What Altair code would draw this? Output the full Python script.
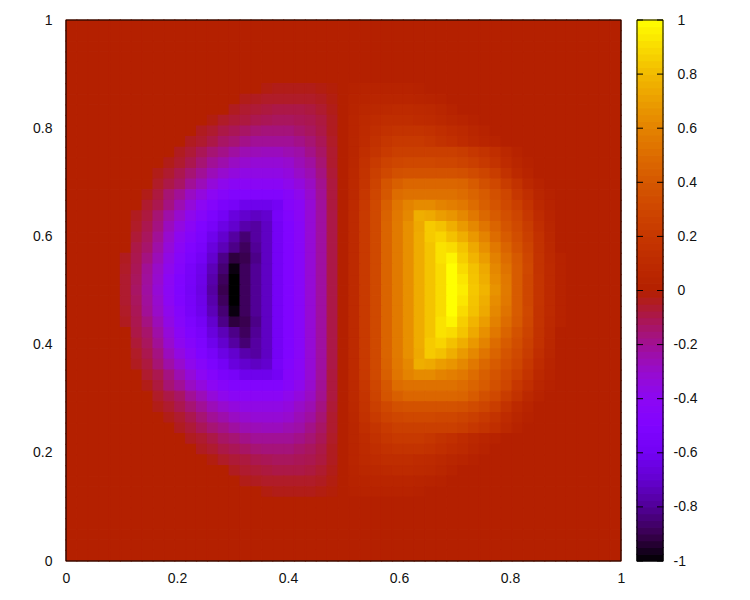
import altair as alt
import pandas as pd

# Hundredths of the field value, rows 0..25 from the top edge (row 25 is the middle row;
# the picture is mirror-symmetric about it). LEFT rows end at column 24, RIGHT rows start at column 26.
LEFT = [
 [], [], [], [], [], [],
 [-2,-3,-3,-3,-3,-2,-1],
 [-3,-4,-5,-5,-5,-5,-5,-4,-2],
 [-4,-6,-7,-8,-9,-9,-9,-8,-6,-3],
 [-2,-5,-7,-8,-10,-11,-12,-12,-11,-10,-8,-4],
 [-4,-6,-9,-11,-13,-15,-16,-16,-16,-14,-12,-9,-4],
 [-4,-6,-9,-13,-15,-18,-20,-20,-20,-20,-18,-15,-11,-5],
 [-4,-7,-11,-15,-18,-22,-25,-26,-27,-27,-25,-23,-18,-13,-6],
 [-3,-6,-10,-15,-20,-24,-28,-30,-32,-32,-32,-30,-26,-22,-15,-6],
 [-3,-6,-10,-15,-20,-26,-30,-34,-36,-36,-36,-36,-34,-29,-25,-17,-7],
 [-5,-9,-13,-20,-26,-33,-38,-42,-42,-42,-42,-42,-38,-34,-28,-19,-8],
 [-3,-8,-15,-20,-28,-34,-40,-45,-48,-48,-48,-48,-48,-44,-38,-30,-20,-8],
 [-6,-10,-17,-25,-33,-40,-47,-53,-56,-62,-62,-62,-58,-46,-42,-32,-21,-8],
 [-4,-8,-15,-23,-30,-38,-45,-52,-58,-66,-70,-72,-70,-56,-48,-42,-32,-22,-9],
 [-5,-10,-17,-27,-35,-42,-50,-56,-64,-70,-76,-78,-72,-58,-50,-43,-32,-22,-9],
 [-7,-12,-20,-30,-39,-46,-52,-62,-70,-78,-85,-78,-72,-58,-50,-43,-32,-22,-9],
 [-9,-14,-23,-33,-42,-49,-54,-66,-74,-82,-88,-80,-72,-58,-50,-43,-32,-22,-9],
 [-4,-10,-17,-26,-36,-45,-52,-58,-70,-82,-92,-90,-82,-72,-58,-50,-43,-32,-22,-9],
 [-5,-11,-20,-29,-38,-47,-55,-62,-74,-85,-98,-88,-80,-72,-58,-50,-43,-32,-22,-9],
 [-6,-12,-21,-30,-40,-49,-56,-63,-76,-88,-100,-88,-80,-72,-58,-50,-43,-32,-22,-9],
 [-6,-13,-22,-32,-41,-50,-57,-64,-78,-90,-100,-88,-80,-72,-58,-50,-43,-32,-22,-9],
]
RIGHT = [
 [], [], [], [], [], [],
 [2,3,3,3,3,3,2],
 [3,4,5,5,5,5,4,3,2],
 [4,7,8,9,10,10,9,8,6,3],
 [5,9,11,12,12,12,11,10,8,6,4,2],
 [5,10,13,15,17,17,17,15,13,11,9,6,3],
 [6,11,15,19,21,21,21,19,16,14,11,8,5,3],
 [6,13,18,22,25,25,25,25,25,25,23,20,17,13,8,3],
 [7,15,22,27,30,31,31,31,30,30,28,25,21,17,11,6,2],
 [8,17,25,31,36,37,37,37,37,37,36,33,29,24,16,9,4],
 [9,18,28,38,44,47,47,47,47,47,46,42,36,31,23,16,8,3],
 [9,20,30,40,50,52,52,52,52,52,50,46,42,36,30,20,13,6,2],
 [10,21,32,44,54,60,63,63,60,58,55,50,44,38,32,25,17,8,3],
 [10,22,32,45,55,62,76,74,70,67,62,55,48,42,35,29,20,11,4],
 [10,22,32,46,56,65,74,85,82,76,69,62,54,46,38,32,23,13,6],
 [10,22,32,46,56,65,75,85,88,82,76,68,60,50,42,34,25,15,7],
 [10,22,32,46,56,65,75,83,92,90,83,74,65,55,46,37,28,16,8],
 [10,22,32,46,56,65,75,83,92,97,86,78,70,59,50,41,30,17,9,3],
 [10,22,32,46,56,65,75,83,90,100,90,82,74,62,53,42,31,17,10,3],
 [10,22,32,46,56,65,75,83,90,100,93,83,76,64,55,42,30,18,10,3],
 [10,22,32,46,56,65,75,83,90,100,95,84,78,66,56,42,30,18,10,3],
]
N_CELLS = 51
BAR_LEVELS = [-1,-.975,-.95,-.925,-.9,-.875,-.85,-.825,-.8,-.775,-.75,-.725,-.7,-.675,-.65,-.625,-.6,-.575,-.55,-.525,
 -.5,-.475,-.45,-.425,-.4,-.375,-.35,-.325,-.3,-.275,-.25,-.225,-.2,-.175,-.15,-.125,-.1,-.075,-.05,-.025,
 0,.025,.05,.075,.1,.125,.15,.175,.2,.225,.25,.275,.3,.325,.35,.375,.4,.425,.45,.475,
 .5,.525,.55,.575,.6,.625,.65,.675,.7,.725,.75,.775,.8,.825,.85,.875,.9,.925,.95,.975]
BAR_TICKS = [-1,-.8,-.6,-.4,-.2,0,.2,.4,.6,.8,1]
AXIS_TICKS = [0,.2,.4,.6,.8,1]
PAL_DOMAIN = [-1,-.9,-.8,-.7,-.6,-.5,-.4,-.3,-.2,-.1,0,.1,.2,.3,.4,.5,.6,.7,.8,.9,1]
PAL_RANGE = ["#000000","#39004f","#510096","#6301ce","#7202f3","#8004ff","#8c07f3","#970bce","#a11096","#ab174f",
 "#b42000","#bd2a00","#c63700","#ce4600","#d55700","#dd6c00","#e48300","#eb9d00","#f2ba00","#f9db00","#ffff00"]

grid = {}
for r in range(N_CELLS):
    m = min(r, N_CELLS - 1 - r)
    row = [0] * N_CELLS
    for i, v in enumerate(LEFT[m]):
        row[25 - len(LEFT[m]) + i] = v
    for i, v in enumerate(RIGHT[m]):
        row[26 + i] = v
    grid[r] = row
cells = pd.DataFrame([
    {"x0": c / N_CELLS, "x1": (c + 1) / N_CELLS,
     "y0": 1 - (r + 1) / N_CELLS, "y1": 1 - r / N_CELLS, "v": grid[r][c] / 100}
    for r in grid for c in range(N_CELLS)
])
bar = pd.DataFrame({"y0": BAR_LEVELS, "y1": BAR_LEVELS[1:] + [1], "v": [l + 0.0125 for l in BAR_LEVELS]})
ticks = pd.DataFrame({"t": BAR_TICKS})

FONT = "Liberation Sans"
FS = 14
color_scale = alt.Scale(domain=PAL_DOMAIN, range=PAL_RANGE, clamp=True, interpolate="rgb")
LABEL = "'' + datum.value"

def common_axis(**kw):
    return alt.Axis(values=AXIS_TICKS, ticks=False, grid=False, domain=False, title=None,
                    labelFont=FONT, labelFontSize=FS, labelColor="#111111", labelExpr=LABEL, **kw)

W, H = 555, 541
heat = alt.Chart(cells).mark_rect(strokeWidth=1.2, strokeOpacity=1).encode(
    x=alt.X("x0:Q", scale=alt.Scale(domain=[0, 1], nice=False),
            axis=common_axis(labelPadding=10, labelFlush=False)),
    x2="x1:Q",
    y=alt.Y("y0:Q", scale=alt.Scale(domain=[0, 1], nice=False),
            axis=common_axis(labelPadding=14, minExtent=53, maxExtent=53, labelFlush=False)),
    y2="y1:Q",
    fill=alt.Fill("v:Q", scale=color_scale, legend=None),
    stroke=alt.Stroke("v:Q", scale=color_scale, legend=None),
)
frame1 = alt.Chart(pd.DataFrame({"a": [0]})).mark_rect(fill=None, stroke="black", strokeWidth=1).encode(
    x=alt.value(0), x2=alt.value(W), y=alt.value(0), y2=alt.value(H))
main = alt.layer(heat, frame1).properties(width=W, height=H)

bar_y = alt.Scale(domain=[-1, 1], nice=False)
bar_rect = alt.Chart(bar).mark_rect(strokeWidth=1.2, strokeOpacity=1).encode(
    x=alt.value(0), x2=alt.value(26),
    y=alt.Y("y0:Q", scale=bar_y, axis=alt.Axis(
        orient="right", values=BAR_TICKS, ticks=False, grid=False, domain=False, title=None,
        labelFont=FONT, labelFontSize=FS, labelColor="#111111", labelExpr=LABEL, labelFlush=False,
        labelPadding={"condition": {"test": "datum.value < 0", "value": 10}, "value": 14})),
    y2="y1:Q",
    fill=alt.Fill("v:Q", scale=color_scale, legend=None),
    stroke=alt.Stroke("v:Q", scale=color_scale, legend=None),
)
tick_l = alt.Chart(ticks).mark_rule(color="black", strokeWidth=1).encode(
    y=alt.Y("t:Q", scale=bar_y), x=alt.value(0), x2=alt.value(6))
tick_r = alt.Chart(ticks).mark_rule(color="black", strokeWidth=1).encode(
    y=alt.Y("t:Q", scale=bar_y), x=alt.value(20), x2=alt.value(26))
frame2 = alt.Chart(pd.DataFrame({"a": [0]})).mark_rect(fill=None, stroke="black", strokeWidth=1).encode(
    x=alt.value(0), x2=alt.value(26), y=alt.value(0), y2=alt.value(H))
cbar = alt.layer(bar_rect, tick_l, tick_r, frame2).properties(width=26, height=H)

chart = alt.hconcat(main, cbar, spacing=11).configure_view(stroke=None).properties(background="white")
chart.save("out.html", embed_options={"renderer": "svg", "actions": False})
